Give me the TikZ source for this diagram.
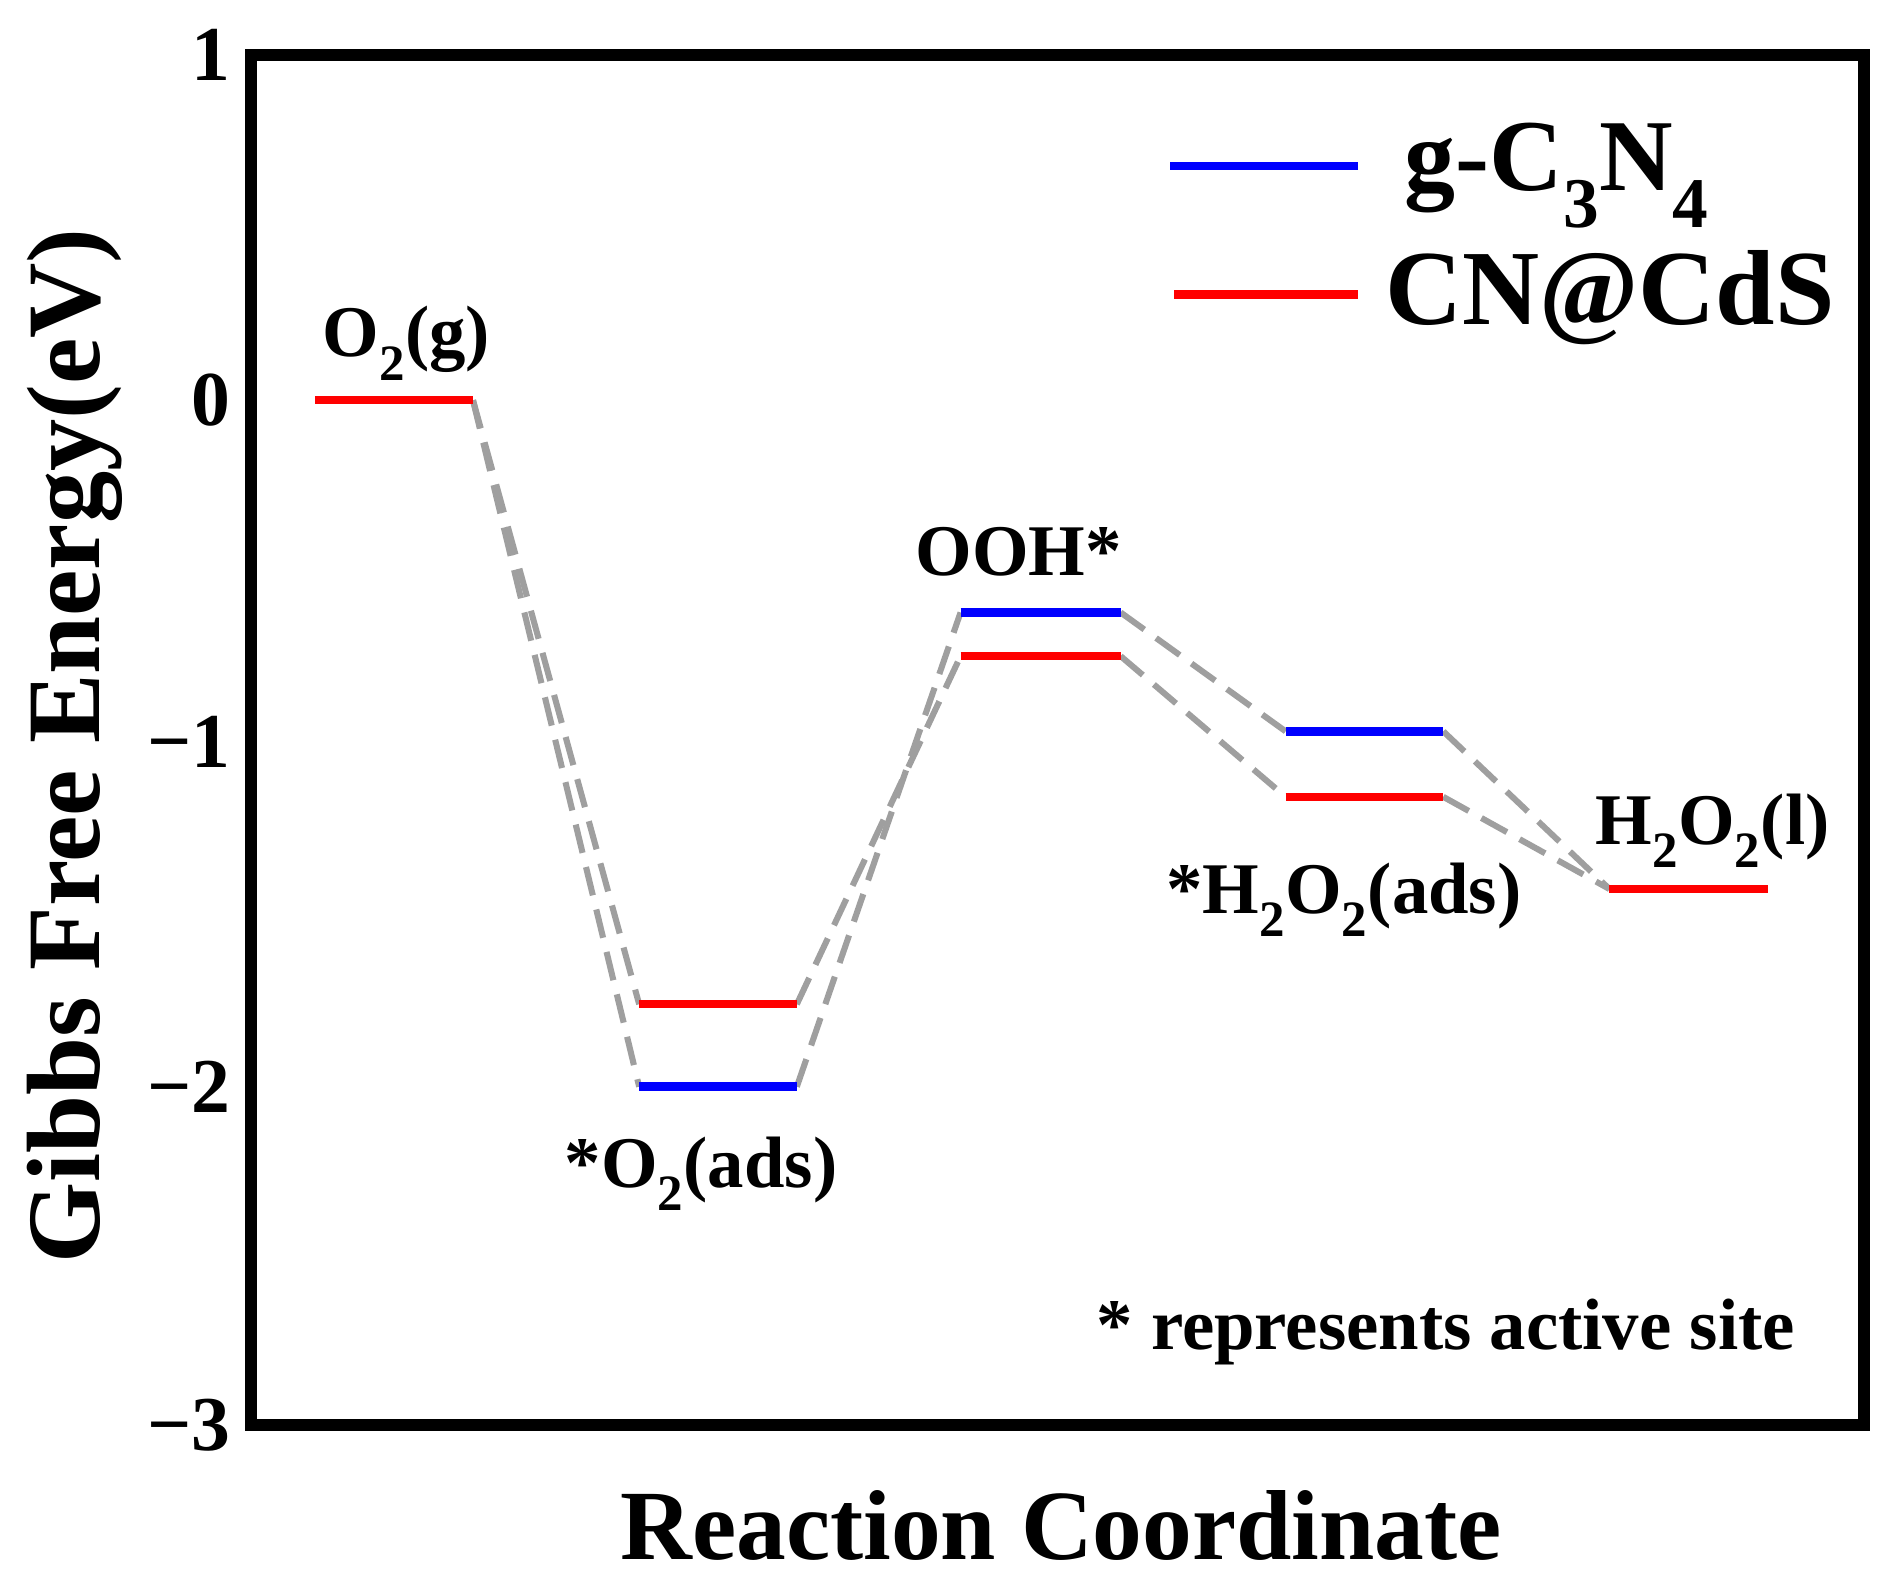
\documentclass[tikz,border=0pt]{standalone}
\usepackage{fontspec}
\setmainfont{Liberation Serif}
\begin{document}
\begin{tikzpicture}[x=1pt,y=-1pt,
  lvl/.style={line width=7pt},
  conn/.style={gray!75,line width=5pt,dash pattern=on 24pt off 12pt},
  lab/.style={font=\bfseries\fontsize{60}{60}\selectfont,inner sep=0pt}]
\useasboundingbox (0,0) rectangle (1560,1304);
\draw[line width=10pt] (207,45) rectangle (1537,1175);
\foreach \v/\y in {1/45,0/330,−1/612,−2/896,−3/1175}
  \node[anchor=east,font=\bfseries\fontsize{64}{64}\selectfont,inner sep=0pt] (t\y) at (190,\y) {\v};
\node[rotate=90,font=\bfseries\fontsize{86}{86}\selectfont,inner sep=0pt] (ylab) at (62,615) {Gibbs Free Energy(eV)};
\node[font=\bfseries\fontsize{82}{82}\selectfont,inner sep=0pt] (xlab) at (875,1258) {Reaction Coordinate};
% levels
\coordinate (a1) at (260,330); \coordinate (a2) at (390,330);
\coordinate (br1) at (527,828); \coordinate (br2) at (657,828);
\coordinate (bb1) at (527,896); \coordinate (bb2) at (657,896);
\coordinate (cb1) at (792,505); \coordinate (cb2) at (924,505);
\coordinate (cr1) at (792,541); \coordinate (cr2) at (924,541);
\coordinate (db1) at (1060,603); \coordinate (db2) at (1190,603);
\coordinate (dr1) at (1060,657); \coordinate (dr2) at (1190,657);
\coordinate (e1) at (1327,733); \coordinate (e2) at (1458,733);
\draw[conn] (a2) -- (br1);
\draw[conn] (a2) -- (bb1);
\draw[conn] (br2) -- (cr1);
\draw[conn] (bb2) -- (cb1);
\draw[conn] (cb2) -- (db1);
\draw[conn] (cr2) -- (dr1);
\draw[conn] (db2) -- (e1);
\draw[conn] (dr2) -- (e1);
\draw[lvl,red] (a1) -- (a2);
\draw[lvl,red] (br1) -- (br2);
\draw[lvl,blue] (bb1) -- (bb2);
\draw[lvl,blue] (cb1) -- (cb2);
\draw[lvl,red] (cr1) -- (cr2);
\draw[lvl,blue] (db1) -- (db2);
\draw[lvl,red] (dr1) -- (dr2);
\draw[lvl,red] (e1) -- (e2);
\node[lab] (l1) at (335,283) {O\textsubscript{2}(g)};
\node[lab] (l2) at (840,455) {OOH*};
\node[lab] (l3) at (578,968) {*O\textsubscript{2}(ads)};
\node[lab] (l4) at (1108,742) {*H\textsubscript{2}O\textsubscript{2}(ads)};
\node[lab] (l5) at (1412,685) {H\textsubscript{2}O\textsubscript{2}(l)};
\node[font=\bfseries\fontsize{60}{60}\selectfont,inner sep=0pt] (note) at (1192,1098) {* represents active site};
% legend
\coordinate (g1) at (965,137); \coordinate (g2) at (1120,137);
\coordinate (h1) at (968,243); \coordinate (h2) at (1120,243);
\draw[lvl,blue] (g1) -- (g2);
\draw[lvl,red] (h1) -- (h2);
\node[anchor=west,font=\bfseries\fontsize{84}{84}\selectfont,inner sep=0pt] (lg1) at (1158,145) {g-C\textsubscript{3}N\textsubscript{4}};
\node[anchor=west,font=\bfseries\fontsize{88}{88}\selectfont,inner sep=0pt] (lg2) at (1142,245) {CN@CdS};
\end{tikzpicture}
\end{document}
